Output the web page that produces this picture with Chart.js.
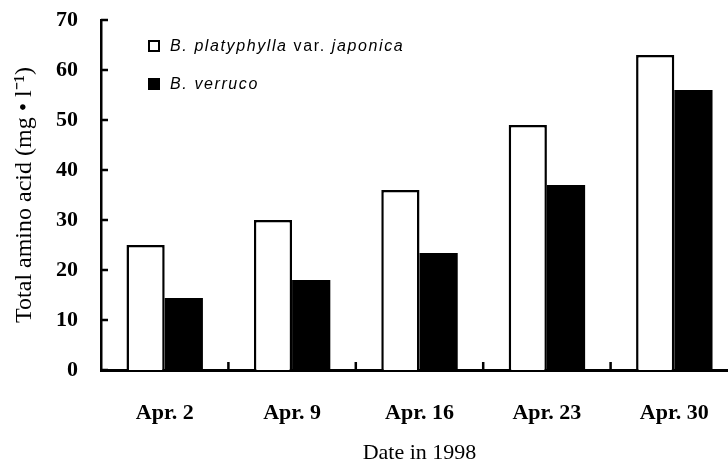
<!DOCTYPE html>
<html>
<head>
<meta charset="utf-8">
<script src="https://cdn.jsdelivr.net/npm/chart.js@4"></script>
<style>
  html, body { margin: 0; padding: 0; background: #fff; overflow: hidden; }
  #wrap { position: relative; width: 750px; height: 468px; }
  #legend { position: absolute; left: 148px; top: 37px; font-family: "Liberation Sans", Arial, sans-serif;
            font-size: 16px; letter-spacing: 1.6px; color: #000; }
  #legend .row { display: flex; align-items: center; height: 18px; margin-bottom: 20px; }
  #legend .box { width: 8px; height: 8px; border: 2px solid #000; margin-right: 10px; }
  #legend i { font-style: italic; }
</style>
</head>
<body>
<div id="wrap">
  <canvas id="chart" width="750" height="468"></canvas>
  <div id="legend"></div>
</div>
<script>
// data
var dates = ['Apr. 2', 'Apr. 9', 'Apr. 16', 'Apr. 23', 'Apr. 30'];
var seriesNames = ['B. platyphylla var. japonica', 'B. verruco'];
var platyphylla = [25, 30, 36, 49, 63];
var verruco = [14.4, 18, 23.4, 37, 56];
var yTicks = [0, 10, 20, 30, 40, 50, 60, 70];

// species names in italics, "var." upright
function legendText(name) {
  return name.split(' ').map(function (w) {
    return w === 'var.' ? w : '<i>' + w + '</i>';
  }).join(' ');
}

// ticks pointing into the plot, like the original
var innerTicks = {
  id: 'innerTicks',
  afterDraw: function (chart) {
    var ctx = chart.ctx, area = chart.chartArea;
    var x = chart.scales.x, y = chart.scales.y;
    ctx.save();
    ctx.strokeStyle = '#000';
    ctx.lineWidth = 2.5;
    ctx.beginPath();
    y.ticks.forEach(function (t, i) {
      var py = y.getPixelForTick(i);
      ctx.moveTo(area.left, py);
      ctx.lineTo(area.left + 7, py);
    });
    for (var i = 0; i < x.ticks.length - 1; i++) {
      var px = (x.getPixelForTick(i) + x.getPixelForTick(i + 1)) / 2;
      ctx.moveTo(px, area.bottom);
      ctx.lineTo(px, area.bottom - 8);
    }
    ctx.stroke();
    ctx.restore();
  }
};

var htmlLegend = {
  id: 'htmlLegend',
  afterUpdate: function (chart) {
    var box = document.getElementById('legend');
    box.innerHTML = '';
    chart.data.datasets.forEach(function (ds) {
      var row = document.createElement('div');
      row.className = 'row';
      var sq = document.createElement('span');
      sq.className = 'box';
      sq.style.background = ds.backgroundColor;
      var txt = document.createElement('span');
      txt.innerHTML = legendText(ds.label);
      row.appendChild(sq);
      row.appendChild(txt);
      box.appendChild(row);
    });
  }
};

var ctx = document.getElementById('chart').getContext('2d');
var chart = new Chart(ctx, {
  type: 'bar',
  data: {
    labels: dates,
    datasets: [{
      label: seriesNames[0],
      data: platyphylla,
      backgroundColor: '#fff',
      borderColor: '#000',
      borderWidth: 2.5
    }, {
      label: seriesNames[1],
      data: verruco,
      backgroundColor: '#000',
      borderColor: '#000',
      borderWidth: 0
    }]
  },
  options: {
    responsive: false,
    animation: false,
    layout: { padding: { top: 20, right: 12, left: 0, bottom: 0 } },
    datasets: { bar: { categoryPercentage: 0.6, barPercentage: 1.0 } },
    plugins: {
      legend: { display: false },
      tooltip: { enabled: false }
    },
    scales: {
      x: {
        grid: { display: false },
        border: { display: true, color: '#000', width: 3 },
        ticks: {
          color: '#000',
          padding: 22,
          font: { family: 'Liberation Serif', size: 22, weight: 'bold' }
        },
        title: {
          display: true,
          text: 'Date in 1998',
          color: '#000',
          padding: { top: 0, bottom: 2 },
          font: { family: 'Liberation Serif', size: 22 }
        },
        afterFit: function (s) { s.height = 98; }
      },
      y: {
        min: 0,
        max: 70,
        afterBuildTicks: function (s) {
          s.ticks = yTicks.map(function (v) { return { value: v }; });
        },
        grid: { display: false },
        border: { display: true, color: '#000', width: 2.5 },
        ticks: {
          color: '#000',
          padding: 15,
          font: { family: 'Liberation Serif', size: 22, weight: 'bold' }
        },
        title: {
          display: true,
          text: 'Total amino acid (mg \u2022 l\u207B\u00B9)',
          color: '#000',
          padding: { top: 10, bottom: 0 },
          font: { family: 'Liberation Serif', size: 24 }
        },
        afterFit: function (s) {
          s.width = 101;
          // keep the label padding from pushing the plot top down
          s.paddingTop = 0;
          s.paddingBottom = 0;
        }
      }
    }
  },
  plugins: [innerTicks, htmlLegend]
});
</script>
</body>
</html>
